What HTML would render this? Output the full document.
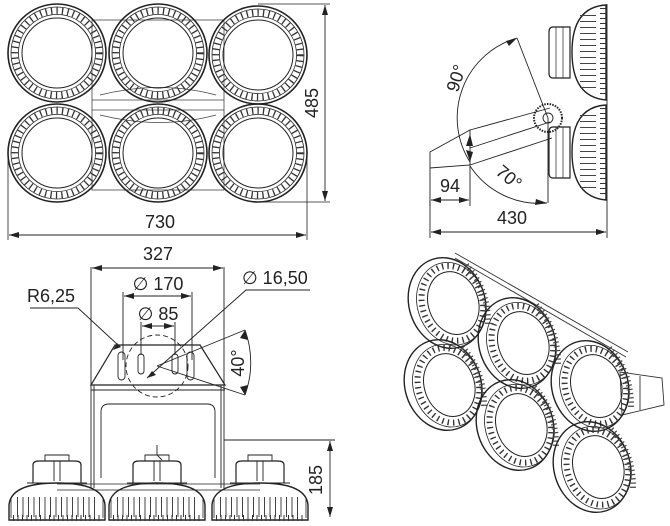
<!DOCTYPE html>
<html><head><meta charset="utf-8"><style>
html,body{margin:0;padding:0;background:#fff;width:670px;height:526px;overflow:hidden}
svg{display:block}
text{font-family:"Liberation Sans","DejaVu Sans",sans-serif;fill:#222;font-size:18px}
</style></head><body>
<svg width="670" height="526" viewBox="0 0 670 526" xmlns="http://www.w3.org/2000/svg">
<defs>
<marker id="a" viewBox="0 0 10 6" refX="10" refY="3" markerWidth="10" markerHeight="6" orient="auto-start-reverse" markerUnits="userSpaceOnUse"><path d="M0,0L10,3L0,6z" fill="#222"/></marker>
<g id="lamp" fill="none" stroke="#222">
<circle r="49" stroke-width="1.6"/>
<circle r="46" stroke-width="0.8"/>
<circle r="42.2" stroke-width="6.5" stroke="#333" stroke-dasharray="1.3 4.2"/>
<circle r="38.5" stroke-width="0.8"/>
<circle r="35" stroke-width="1"/>
</g>
<g id="dome" fill="none" stroke="#222">
<path d="M-48,35 L-48,20 Q-46,-2 0,-2 Q46,-2 48,20 L48,35 Z" stroke-width="1.4"/>
<path d="M-46,33 L-46,14 M46,33 L46,14" stroke-width="0.8"/>
<path d="M-44,33 L44,33" stroke-width="6" stroke="#333" stroke-dasharray="1 3.5"/>
<path d="M-40,22 L40,22" stroke-width="20" stroke="#444" stroke-dasharray="1 4.5"/>
<path d="M-24,-2 L-24,-20 Q-24,-24 -18,-24 L18,-24 Q24,-24 24,-20 L24,-2" stroke-width="1.2"/>
<path d="M-12,-24 L-12,-30 L12,-30 L12,-24 M-3,-24 L-3,-4 M3,-24 L3,-4" stroke-width="0.9"/>
<path d="M-30,-2 L30,-2" stroke-width="1"/>
</g>
<g id="side" fill="none" stroke="#222">
<path d="M606,0 Q572,2 572,47 Q572,92 606,95 Z" stroke-width="1.4"/>
<path d="M603,3 L603,92" stroke-width="6" stroke="#333" stroke-dasharray="1 4"/>
<path d="M588,10 L588,86" stroke-width="16" stroke="#444" stroke-dasharray="1 5"/>
<path d="M570,22 L553,22 Q549,22 549,27 L549,68 Q549,73 553,73 L570,73 Z" stroke-width="1.2"/>
<path d="M556,22 L556,73 M563,22 L563,73" stroke-width="0.7"/>
</g>
<g id="iso" fill="none" stroke="#222">
<ellipse rx="38" ry="46" stroke-width="1.4"/>
<ellipse cx="4" cy="2" rx="34" ry="42" stroke-width="0.8"/>
<ellipse cx="5" cy="2" rx="30" ry="38" stroke-width="6" stroke="#333" stroke-dasharray="1.4 4"/>
<ellipse cx="6" cy="2" rx="25" ry="32" stroke-width="1"/>
<path d="M30,-30 Q44,0 32,34" stroke-width="6" stroke="#444" stroke-dasharray="1.2 3"/>
</g>
</defs>

<g fill="none" stroke="#444" stroke-width="0.8">
<rect x="92" y="20" width="132" height="170"/>
<path d="M92,100 L224,100 M92,110 L224,110 M100,95 Q160,80 216,95 M100,115 Q160,130 216,115"/>
</g>
<use href="#lamp" x="57" y="53"/>
<use href="#lamp" x="158" y="53"/>
<use href="#lamp" x="258" y="55"/>
<use href="#lamp" x="57" y="153"/>
<use href="#lamp" x="158" y="153"/>
<use href="#lamp" x="258" y="153"/>
<g stroke="#222" stroke-width="0.8" fill="none">
<path d="M258,4 L330,4 M258,202 L330,202"/>
<path d="M8,150 L8,240 M307,150 L307,240"/>
</g>
<line x1="325" y1="5" x2="325" y2="201" stroke="#222" stroke-width="0.9" marker-start="url(#a)" marker-end="url(#a)"/>
<line x1="9" y1="235" x2="306" y2="235" stroke="#222" stroke-width="0.9" marker-start="url(#a)" marker-end="url(#a)"/>
<text x="322" y="103" text-anchor="middle" transform="rotate(-90 322 103)" dy="-4">485</text>
<text x="160" y="228" text-anchor="middle">730</text>

<use href="#side" x="0" y="5"/>
<use href="#side" x="0" y="105"/>
<g fill="none" stroke="#222" stroke-width="0.9">
<line x1="607" y1="4" x2="607" y2="238"/>
<path d="M470,130 L550,108 M470,165 L552,138 M470,148 L550,122"/>
<path d="M430,152 L470,130 L470,165 L430,168 Z"/>
<path d="M430,168 L430,206 M470,165 L470,206"/>
<circle cx="548" cy="118" r="14" stroke-dasharray="1.5 1.2" stroke-width="2"/>
<circle cx="548" cy="118" r="5"/>
<path d="M548,118 L517,38 M548,118 L548,203"/>
<path d="M517,38 A83,83 0 0 0 470,162" />
<path d="M470,166 A83,83 0 0 0 547,203"/>
</g>
<path d="M517,38 L506,41 L509,46 Z" fill="#222"/>
<path d="M547,203 L536,199 L535,205 Z" fill="#222"/>
<path d="M470,134 L466,146 L473,146 Z" fill="#222"/>
<path d="M470,162 L466,150 L473,152 Z" fill="#222"/>
<line x1="431" y1="200" x2="469" y2="200" stroke="#222" stroke-width="0.9" marker-start="url(#a)" marker-end="url(#a)"/>
<line x1="431" y1="232" x2="606" y2="232" stroke="#222" stroke-width="0.9" marker-start="url(#a)" marker-end="url(#a)"/>
<line x1="430" y1="200" x2="430" y2="238" stroke="#222" stroke-width="0.9"/>
<text x="450" y="192" text-anchor="middle">94</text>
<text x="512" y="224" text-anchor="middle">430</text>
<text x="462" y="80" text-anchor="middle" transform="rotate(-72 462 80)">90°</text>
<text x="505" y="182" text-anchor="middle" transform="rotate(40 505 182)">70°</text>

<g fill="none" stroke="#222" stroke-width="0.9">
<path d="M91,267 L91,488 M224,267 L224,488 M94,385 L94,488 M221,385 L221,488"/>
<path d="M115,345 L200,345 L225,385 L91,385 Z" stroke-width="1.2"/>
<path d="M91,390 L225,390"/>
<path d="M101,478 L101,412 Q101,404 109,404 L207,404 Q215,404 215,412 L215,478"/>
<circle cx="157" cy="366" r="31" stroke-dasharray="5 3"/>
<path d="M123,292 L123,360 M192,292 L192,360 M141,322 L141,355 M175,322 L175,355"/>
<rect x="118" y="352" width="7" height="28" rx="3.5"/>
<rect x="187" y="352" width="7" height="28" rx="3.5"/>
<rect x="138" y="354" width="6" height="20" rx="3"/>
<rect x="172" y="354" width="6" height="20" rx="3"/>
<path d="M30,308 L78,308 L118,345"/>
<path d="M310,290 L246,290 L147,378" />
<path d="M157,366 L245,330 M157,366 L245,395"/>
<path d="M245,330 A95,95 0 0 1 245,395"/>
<path d="M224,440 L335,440"/>
<path d="M157,445 L157,455 L162,460"/>
</g>
<path d="M117,343 L113,350 L121,347Z" fill="#222"/>
<path d="M147,378 L152,371 L156,375 Z" fill="#222"/>
<path d="M245,330 L240,338 L248,340 Z" fill="#222"/>
<path d="M245,395 L240,387 L248,385 Z" fill="#222"/>
<line x1="92" y1="268" x2="223" y2="268" stroke="#222" stroke-width="0.9" marker-start="url(#a)" marker-end="url(#a)"/>
<line x1="124" y1="296" x2="191" y2="296" stroke="#222" stroke-width="0.9" marker-start="url(#a)" marker-end="url(#a)"/>
<line x1="142" y1="326" x2="174" y2="326" stroke="#222" stroke-width="0.9" marker-start="url(#a)" marker-end="url(#a)"/>
<line x1="330" y1="441" x2="330" y2="517" stroke="#222" stroke-width="0.9" marker-start="url(#a)" marker-end="url(#a)"/>
<text x="158" y="260" text-anchor="middle">327</text>
<text x="158" y="290" text-anchor="middle">∅ 170</text>
<text x="158" y="320" text-anchor="middle">∅ 85</text>
<text x="27" y="302">R6,25</text>
<text x="242" y="284">∅ 16,50</text>
<text x="244" y="363" text-anchor="middle" transform="rotate(-90 244 363)">40°</text>
<text x="322" y="480" text-anchor="middle" transform="rotate(-90 322 480)">185</text>
<use href="#dome" x="57" y="485"/>
<use href="#dome" x="157" y="485"/>
<use href="#dome" x="260" y="485"/>
<path d="M57,484 L260,484 M57,490 L260,490" stroke="#222" stroke-width="0.8" fill="none"/>

<g fill="none" stroke="#333" stroke-width="0.9">
<path d="M455,253 L628,352 M455,258 L626,357"/>
<path d="M620,372 L662,378 L664,405 L622,415 Z M640,376 L640,410"/>
</g>
<use href="#iso" transform="translate(447,303) rotate(-18)"/>
<use href="#iso" transform="translate(517,343) rotate(-18)"/>
<use href="#iso" transform="translate(590,386) rotate(-18)"/>
<use href="#iso" transform="translate(443,385) rotate(-18)"/>
<use href="#iso" transform="translate(515,425) rotate(-18)"/>
<use href="#iso" transform="translate(592,467) rotate(-18)"/>
</svg>
</body></html>
